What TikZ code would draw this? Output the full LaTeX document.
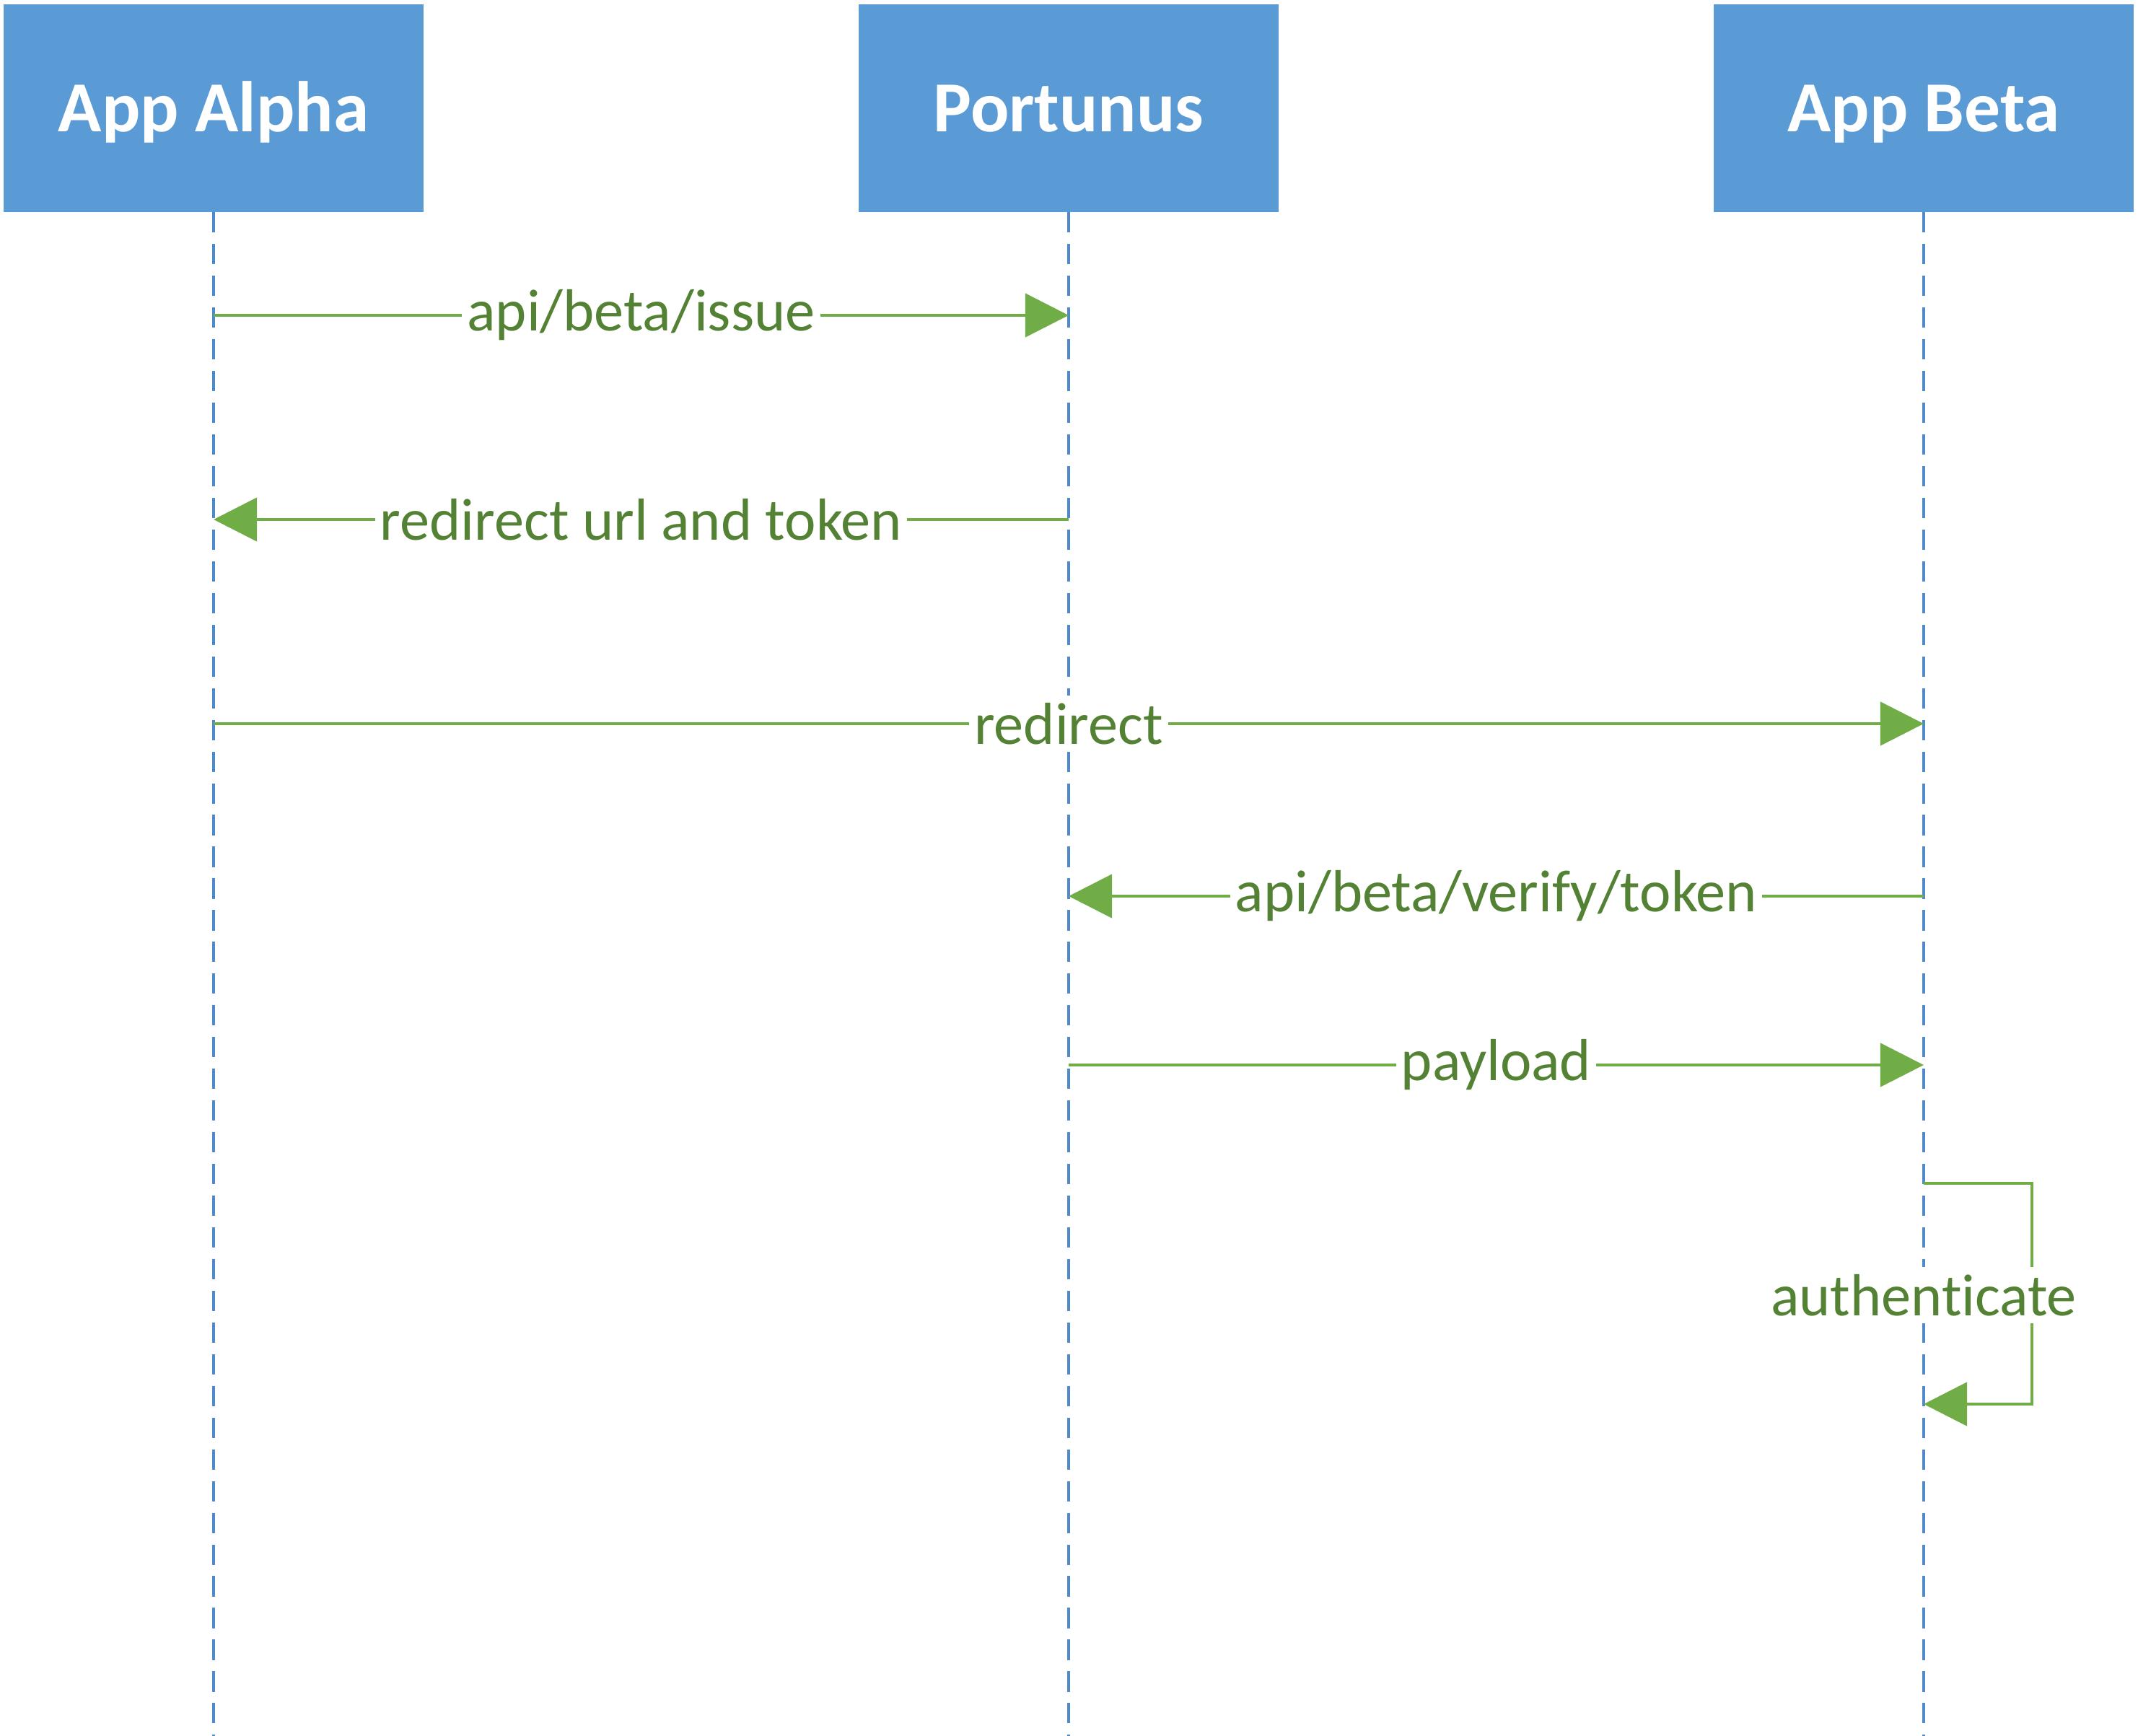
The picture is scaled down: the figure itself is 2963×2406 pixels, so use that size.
\documentclass[tikz,border=0pt]{standalone}
\usepackage{fontspec}
\setmainfont{Carlito}[Ligatures=NoCommon]
\usetikzlibrary{arrows.meta}
\definecolor{boxblue}{HTML}{5B9BD5}
\definecolor{lineblue}{HTML}{4F8BCB}
\definecolor{msggreen}{HTML}{70AD47}
\definecolor{textgreen}{HTML}{548235}

\begin{document}
\begin{tikzpicture}[x=0.01cm, y=-0.01cm,
  actor/.style={fill=boxblue, text=white, font=\fontsize{28.3}{34}\selectfont\bfseries, minimum width=5.81cm, minimum height=2.87cm, inner sep=0pt, text height=0.65cm, text depth=0pt},
  life/.style={lineblue, line width=1pt, dash pattern=on 8pt off 4.5pt},
  msg/.style={msggreen, line width=1.25pt, -{Triangle[length=0.6cm, width=0.6cm]}},
  lbl/.style={fill=white, text=textgreen, font=\fontsize{23.4}{28}\selectfont, inner xsep=2pt, inner ysep=3pt}]
\useasboundingbox (0,0) rectangle (2963,2406);
\node[actor] (alpha) at (296,150) {App Alpha};
\node[actor] (portunus) at (1481,150) {Portunus};
\node[actor] (beta) at (2666,150) {App Beta};
% lifelines
\coordinate (alphaEnd) at (296,2406);
\coordinate (portunusEnd) at (1481,2406);
\coordinate (betaEnd) at (2666,2406);
\draw[life] (alpha.south) -- (alphaEnd);
\draw[life] (portunus.south) -- (portunusEnd);
\draw[life] (beta.south) -- (betaEnd);
% messages
\coordinate (a1) at (296,437);
\coordinate (p1) at (1481,437);
\coordinate (p2) at (1481,720);
\coordinate (a2) at (296,720);
\coordinate (a3) at (296,1003);
\coordinate (b3) at (2666,1003);
\coordinate (b4) at (2666,1242);
\coordinate (p4) at (1481,1242);
\coordinate (p5) at (1481,1476);
\coordinate (b5) at (2666,1476);
\coordinate (b6) at (2666,1640);
\coordinate (b7) at (2666,1946);
\draw[msg] (a1) -- node[lbl] (issue) {api/beta/issue} (p1);
\draw[msg] (p2) -- node[lbl] (redirtoken) {redirect url and token} (a2);
\draw[msg] (a3) -- node[lbl] (redir) {redirect} (b3);
\draw[msg] (b4) -- node[lbl] (verify) {api/beta/verify/token} (p4);
\draw[msg] (p5) -- node[lbl] (payload) {payload} (b5);
\draw[msg] (b6) -- ++(150,0) |- (b7);
\node[lbl] (auth) at (2666,1795) {authenticate};
\end{tikzpicture}
\end{document}
